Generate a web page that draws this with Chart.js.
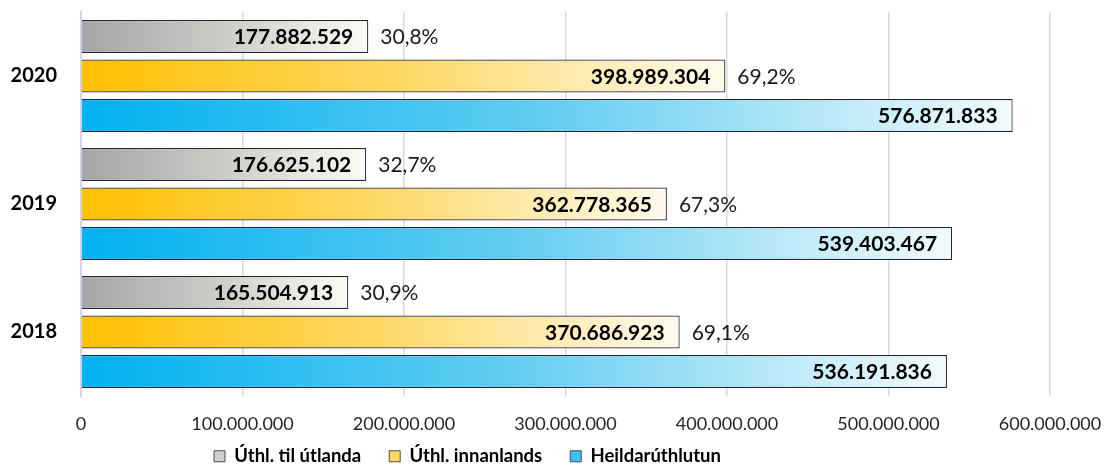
<!DOCTYPE html>
<html>
<head>
<meta charset="utf-8">
<script src="https://cdn.jsdelivr.net/npm/chart.js@4"></script>
<style>
  html, body { margin: 0; padding: 0; background: #fff; }
</style>
</head>
<body>
<canvas id="myChart" width="1105" height="473"></canvas>
<script>
// values
const years = ['2020', '2019', '2018'];
const utlanda = [177882529, 176625102, 165504913];
const innanlands = [398989304, 362778365, 370686923];
const heild = [576871833, 539403467, 536191836];
const pctUtlanda = ['30,8%', '32,7%', '30,9%'];
const pctInnanlands = ['69,2%', '67,3%', '69,1%'];
const seriesNames = ['Úthl. til útlanda', 'Úthl. innanlands', 'Heildarúthlutun'];
const xMax = 600000000;
const xStep = 100000000;

const FONT = 'Lato';

function fmt(n) {
  return String(Math.round(n)).replace(/\B(?=(\d{3})+(?!\d))/g, '.');
}

/* gradient from axis to bar end */
function barGradient(stops) {
  return function (ctx) {
    const chart = ctx.chart;
    const x = chart.scales.x;
    if (!x || ctx.type !== 'data') return stops[0];
    const x0 = x.getPixelForValue(0);
    const x1 = x.getPixelForValue(ctx.raw);
    if (!isFinite(x0) || !isFinite(x1) || x1 <= x0) return stops[0];
    const g = chart.ctx.createLinearGradient(x0, 0, x1, 0);
    stops.forEach(function (c, i) { g.addColorStop(i / (stops.length - 1), c); });
    return g;
  };
}

const grayStops = ['#a5a5a5', '#cbcbc8', '#fbfbf6'];
const yellowStops = ['#ffc000', '#fdd865', '#fffaed'];
const blueStops = ['#00b0f0', '#63cdf1', '#f3fafc'];
const legendFill = ['#d0d0d0', '#ffd75a', '#3cc2f0'];

const barLabels = {
  id: 'barLabels',
  afterDatasetsDraw(chart) {
    const c = chart.ctx;
    chart.data.datasets.forEach(function (ds, di) {
      const meta = chart.getDatasetMeta(di);
      meta.data.forEach(function (bar, i) {
        c.save();
        c.textBaseline = 'middle';
        c.font = 'bold 21px ' + FONT;
        c.fillStyle = '#000';
        c.textAlign = 'right';
        c.fillText(fmt(ds.data[i]), bar.x - 15, bar.y + 1);
        if (ds.pct) {
          c.font = '21px ' + FONT;
          c.fillStyle = '#1a1a1a';
          c.textAlign = 'left';
          c.fillText(ds.pct[i], bar.x + 12, bar.y + 1);
        }
        c.restore();
      });
    });
  }
};

/* legend keeps its wide item spacing but takes less room, and sits left of centre */
const legendPlace = {
  id: 'legendPlace',
  afterInit(chart) {
    const lg = chart.legend;
    if (!lg) return;
    const fit = lg.fit;
    lg.fit = function () {
      fit.call(this);
      this.height = 35;
    };
  },
  afterLayout(chart) {
    const lg = chart.legend;
    if (!lg) return;
    lg.top -= 19;
    lg.left += 186;
  }
};

const ctx = document.getElementById('myChart').getContext('2d');
new Chart(ctx, {
  type: 'bar',
  data: {
    labels: years,
    datasets: [
      { label: seriesNames[0], data: utlanda, pct: pctUtlanda, backgroundColor: barGradient(grayStops) },
      { label: seriesNames[1], data: innanlands, pct: pctInnanlands, backgroundColor: barGradient(yellowStops) },
      { label: seriesNames[2], data: heild, backgroundColor: barGradient(blueStops) }
    ]
  },
  options: {
    indexAxis: 'y',
    responsive: false,
    animation: false,
    devicePixelRatio: 1,
    layout: { padding: { top: 12, right: 55, left: 0, bottom: 0 } },
    datasets: {
      bar: {
        barPercentage: 0.835,
        categoryPercentage: 0.926,
        borderColor: '#24243e',
        borderWidth: 1.2
      }
    },
    scales: {
      x: {
        min: 0,
        max: xMax,
        ticks: {
          stepSize: xStep,
          padding: 0,
          color: '#262626',
          font: { family: FONT, size: 18 },
          callback: function (v) { return fmt(v); }
        },
        grid: { color: '#d9d9d9', lineWidth: 1.5, drawTicks: true, tickLength: 17, tickColor: 'rgba(0,0,0,0)' },
        border: { display: false },
        afterFit: function (scale) { scale.height = 42; }
      },
      y: {
        ticks: {
          padding: 0,
          color: '#000',
          font: { family: FONT, size: 20, weight: 'bold' }
        },
        grid: { display: false, drawTicks: true, tickLength: 24 },
        border: { color: '#d4d4ea', width: 2 },
        afterFit: function (scale) { scale.width = 81; }
      }
    },
    plugins: {
      tooltip: { enabled: false },
      legend: {
        position: 'bottom',
        align: 'start',
        labels: {
          boxWidth: 11,
          boxHeight: 11,
          padding: 28,
          color: '#000',
          font: { family: FONT, size: 18.5, weight: 'bold' },
          generateLabels: function (chart) {
            return chart.data.datasets.map(function (ds, i) {
              return {
                text: ds.label,
                fillStyle: legendFill[i],
                strokeStyle: '#4a4a60',
                lineWidth: 1,
                fontColor: '#000',
                hidden: false,
                datasetIndex: i
              };
            });
          }
        }
      }
    }
  },
  plugins: [barLabels, legendPlace]
});
</script>
</body>
</html>
